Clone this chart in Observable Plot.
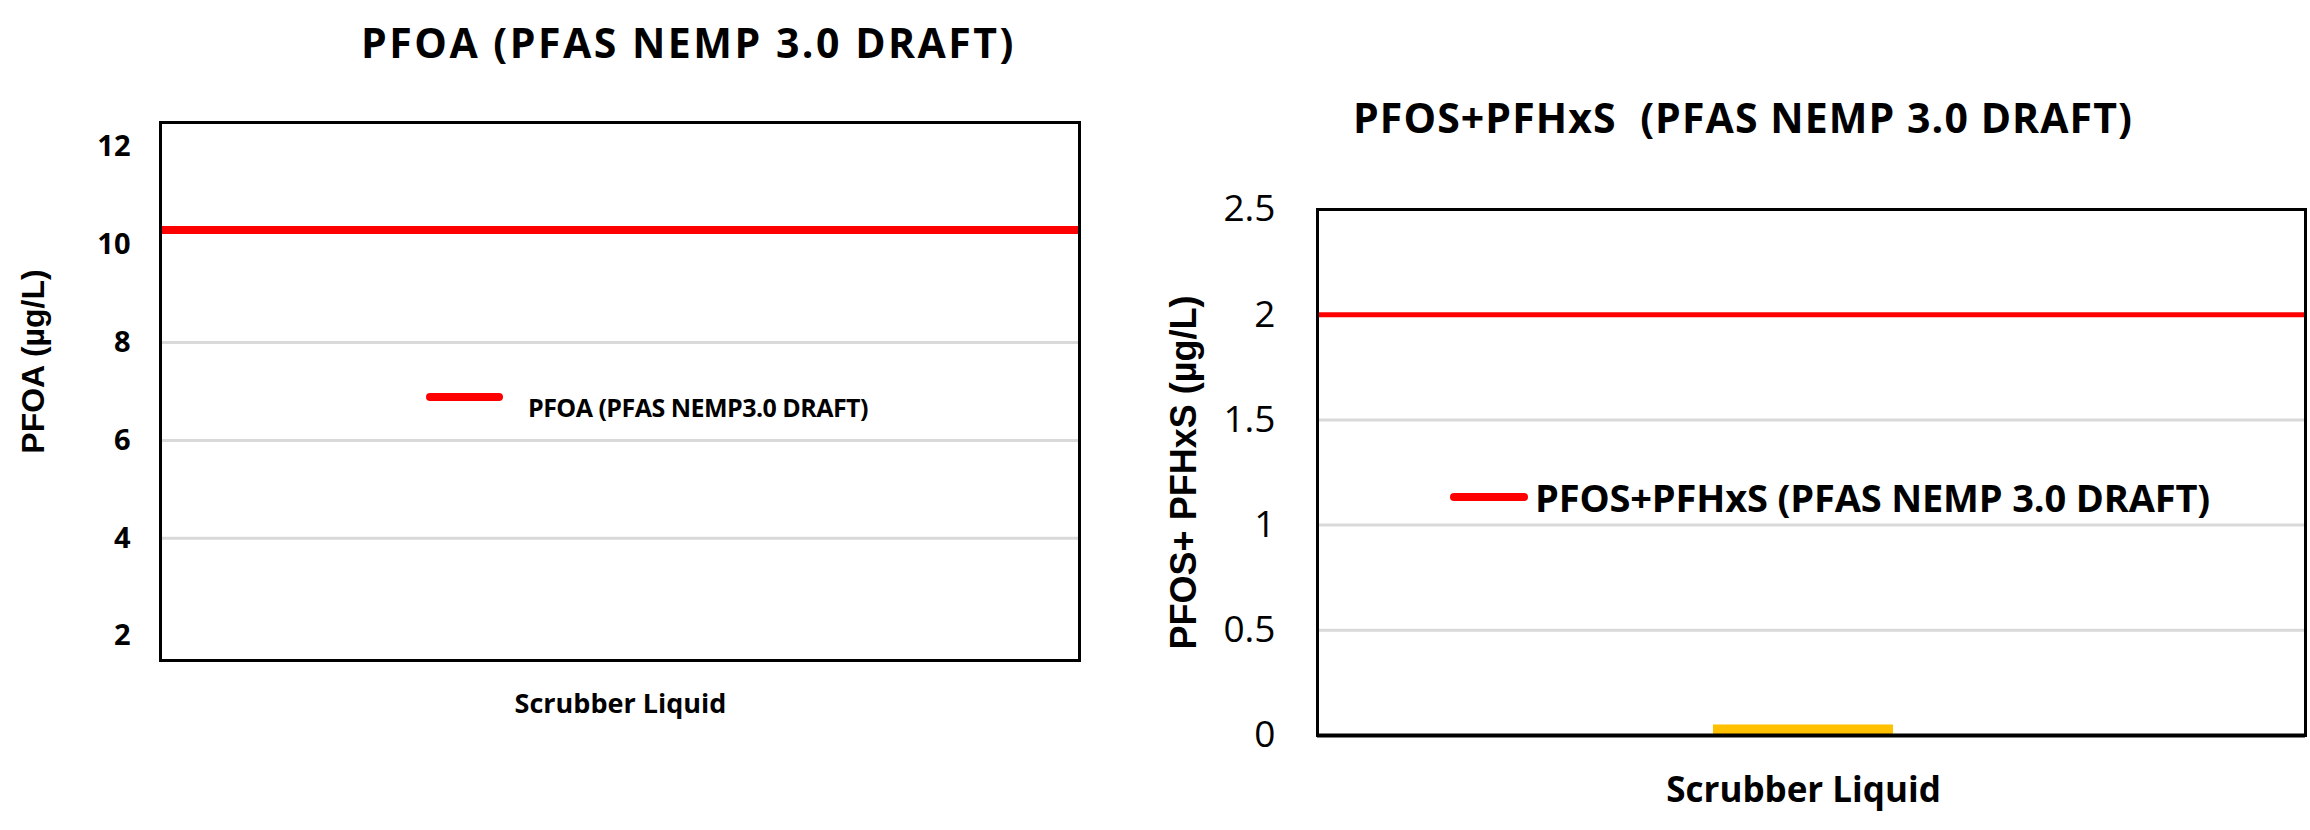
<!DOCTYPE html>
<html>
<head>
<meta charset="utf-8">
<script src="https://cdn.jsdelivr.net/npm/d3@7"></script>
<script src="https://cdn.jsdelivr.net/npm/@observablehq/plot@0.6"></script>
<style>
  html, body { margin: 0; padding: 0; background: #fff; }
  #page { position: relative; width: 2310px; height: 830px; overflow: hidden; background: #fff; font-family: "Open Sans", sans-serif; color: #000; }
  .abs { position: absolute; white-space: pre; line-height: 1; }
  .title { font-weight: bold; }
  .swatch { position: absolute; background: #ff0000; border-radius: 4px; }
  .chart { position: absolute; }
</style>
</head>
<body>
<div id="page">
  <div id="t1" class="abs title">PFOA (PFAS NEMP 3.0 DRAFT)</div>
  <div id="t2" class="abs title">PFOS+PFHxS  (PFAS NEMP 3.0 DRAFT)</div>
  <div id="c1" class="chart"></div>
  <div id="c2" class="chart"></div>
  <div id="s1" class="swatch"></div>
  <div id="l1" class="abs" style="font-weight:bold">PFOA (PFAS NEMP3.0 DRAFT)</div>
  <div id="s2" class="swatch"></div>
  <div id="l2" class="abs" style="font-weight:bold">PFOS+PFHxS (PFAS NEMP 3.0 DRAFT)</div>
</div>
<script>
// ---- data ----
const categories = ["Scrubber Liquid"];
const pfoaGuideline = [10.3];
const pfoaTicks = [2, 4, 6, 8, 10, 12];
const pfoaGridlines = [4, 6, 8];
const pfoaYLabel = "PFOA (µg/L)";

const pfosGuideline = [2];
const pfosValues = [0.05];
const pfosTicks = [0, 0.5, 1, 1.5, 2, 2.5];
const pfosGridlines = [0.5, 1, 1.5, 2];
const pfosYLabel = "PFOS+ PFHxS (µg/L)";

const pfosRows = categories.map((c, i) => ({category: c, value: pfosValues[i]}));

// ---- helpers ----
function placeText(id, left, baseline, fs, width) {
  const el = document.getElementById(id);
  el.style.fontSize = fs + "px";
  el.style.left = left + "px";
  el.style.top = (baseline - 0.888 * fs) + "px";
  el.style.letterSpacing = "0px";
  const w = el.getBoundingClientRect().width;
  const n = el.textContent.length;
  el.style.letterSpacing = ((width - w) / n) + "px";
}
function placeSwatch(id, x1, x2, yc, h) {
  const el = document.getElementById(id);
  el.style.left = x1 + "px";
  el.style.width = (x2 - x1) + "px";
  el.style.top = (yc - h / 2) + "px";
  el.style.height = h + "px";
}

// ---- left chart ----
const left = Plot.plot({
  width: 1100,
  height: 660,
  marginLeft: 160,
  marginRight: 21,
  marginTop: 32,
  marginBottom: 90,
  style: {fontFamily: "Open Sans", background: "transparent", overflow: "visible"},
  x: {type: "band", domain: categories},
  y: {domain: [1.5, 12.5]},
  marks: [
    Plot.ruleY(pfoaGridlines, {stroke: "#d9d9d9", strokeWidth: 3}),
    Plot.ruleY(pfoaGuideline, {stroke: "#ff0000", strokeWidth: 8}),
    Plot.frame({stroke: "#000", strokeWidth: 3}),
    Plot.axisY({ticks: pfoaTicks, tickFormat: d => String(d), tickSize: 0, tickPadding: 30,
      fontSize: 29, fontWeight: "bold", label: null}),
    Plot.axisX({tickSize: 0, tickPadding: 33, fontSize: 27, fontWeight: "bold", label: null}),
    Plot.text([pfoaYLabel], {frameAnchor: "left", textAnchor: "middle", text: d => d, rotate: -90,
      dx: -127, dy: -30, fontSize: 32, fontWeight: "bold", fontFamily: "Liberation Sans", fill: "#000"})
  ]
});
const c1 = document.getElementById("c1");
c1.style.left = "0px"; c1.style.top = "90px";
c1.appendChild(left);

// ---- right chart ----
const right = Plot.plot({
  width: 1160,
  height: 660,
  marginLeft: 167,
  marginRight: 5,
  marginTop: 39,
  marginBottom: 95,
  style: {fontFamily: "Open Sans", background: "transparent", overflow: "visible"},
  x: {type: "band", domain: categories, padding: 0.692, align: 0.49},
  y: {domain: [0, 2.5]},
  marks: [
    Plot.ruleY(pfosGridlines, {stroke: "#d9d9d9", strokeWidth: 3}),
    Plot.barY(pfosRows, {x: "category", y: "value", fill: "#ffc000"}),
    Plot.ruleY(pfosGuideline, {stroke: "#ff0000", strokeWidth: 5}),
    Plot.frame({stroke: "#000", strokeWidth: 3}),
    Plot.ruleY([0], {stroke: "#000", strokeWidth: 4}),
    Plot.axisY({ticks: pfosTicks, tickFormat: d => String(d), tickSize: 0, tickPadding: 42,
      fontSize: 37, label: null}),
    Plot.axisX({tickSize: 0, tickPadding: 42, fontSize: 35, fontWeight: "bold", label: null}),
    Plot.text([pfosYLabel], {frameAnchor: "left", textAnchor: "middle", text: d => d, rotate: -90,
      dx: -133, dy: 0, fontSize: 36, fontWeight: "bold", fontFamily: "Liberation Sans", fill: "#000"})
  ]
});
const c2 = document.getElementById("c2");
c2.style.left = "1150px"; c2.style.top = "170px";
c2.appendChild(right);

// ---- titles and legends ----
placeText("t1", 361, 58, 41, 655);
placeText("t2", 1353, 133, 41, 780);
placeSwatch("s1", 426, 503, 397, 8);
placeText("l1", 528, 417, 25, 340);
placeSwatch("s2", 1450, 1528, 497, 8);
placeText("l2", 1535, 512, 38, 675);
</script>
</body>
</html>
